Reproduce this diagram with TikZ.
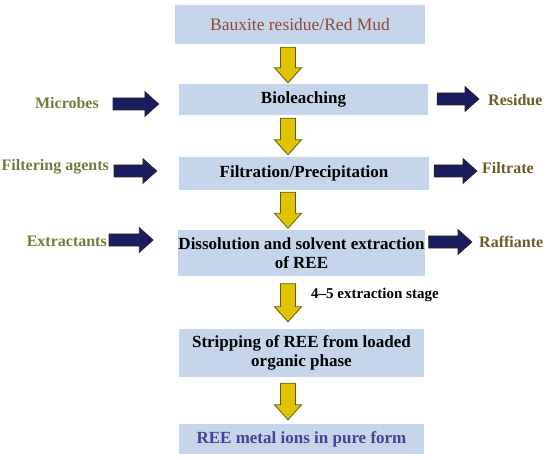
\documentclass[tikz,border=0pt]{standalone}
\usepackage{fontspec}
\setmainfont{Liberation Serif}
\usetikzlibrary{calc}
\definecolor{boxfill}{HTML}{C6D5EA}
\definecolor{lblgreen}{HTML}{6E7E3C}
\definecolor{lblbrown}{HTML}{6E5A28}
\definecolor{topred}{HTML}{8E4A3C}
\definecolor{botpurple}{HTML}{4A3F97}
\definecolor{yfill}{HTML}{E2C300}
\definecolor{yedge}{HTML}{5E5A1C}
\definecolor{navyfill}{HTML}{1B1C5E}
\newcommand\vArrow[2]{\draw[yarrow] ($(#1)+(-7.5,0)$) -- ($(#2)+(-7.5,-15)$) -- ($(#2)+(-13.5,-15)$) -- (#2) -- ($(#2)+(13.5,-15)$) -- ($(#2)+(7.5,-15)$) -- ($(#1)+(7.5,0)$) -- cycle;}
\newcommand\hArrow[2]{\draw[narrow] ($(#1)+(0,-6)$) -- ($(#2)+(-14,-6)$) -- ($(#2)+(-14,-12.5)$) -- (#2) -- ($(#2)+(-14,12.5)$) -- ($(#2)+(-14,6)$) -- ($(#1)+(0,6)$) -- cycle;}
\begin{document}
\begin{tikzpicture}[x=1pt,y=-1pt,
  box/.style={fill=boxfill, draw=none, minimum width=247pt, align=center, inner sep=0pt,
    font=\fontsize{17}{19.5}\selectfont\bfseries},
  lbl/.style={font=\fontsize{16}{18}\selectfont\bfseries, inner sep=0pt},
  lin/.style={lbl, text=lblgreen, anchor=east},
  lout/.style={lbl, text=lblbrown, anchor=west},
  yarrow/.style={fill=yfill, draw=yedge, line width=0.8pt, line join=miter},
  narrow/.style={fill=navyfill, draw=black!85, line width=0.6pt, line join=miter}]
\useasboundingbox (0,0) rectangle (550,460);

% boxes
\node[box, minimum height=39pt, minimum width=250pt, font=\fontsize{17.5}{20}\selectfont, text=topred] (b1) at (300,24.5) {Bauxite residue/Red Mud};
\node[box, minimum height=31pt, minimum width=249pt] (b2) at (303.5,99.5) {Bioleaching};
\node[box, minimum height=33pt, minimum width=250pt] (b3) at (304,173.5) {Filtration/Precipitation};
\node[box, minimum height=45pt, minimum width=245pt] (b4) at (301.5,253) {Dissolution and solvent extraction\\of REE};
\node[box, minimum height=48pt, minimum width=245pt] (b5) at (301.5,353) {Stripping of REE from loaded\\organic phase};
\node[box, minimum height=30pt, minimum width=245pt, text=botpurple] (b6) at (301.5,439) {REE metal ions in pure form};

% side labels
\node[lin] (mic) at (99,103) {Microbes};
\node[lin] (fil) at (109,167) {Filtering agents};
\node[lin] (ext) at (107,241) {Extractants};
\node[lout] (res) at (488,100) {Residue};
\node[lout] (filt) at (482,168) {Filtrate};
\node[lout] (raf) at (479,242) {Raffiante};
\node[lbl, anchor=west, font=\fontsize{15}{17}\selectfont\bfseries] (stage) at (311,295) {4--5 extraction stage};

% vertical (yellow) arrows
\coordinate (a1s) at ($(288,0 |- b1.south)+(0,3)$);
\coordinate (a1e) at ($(288,0 |- b2.north)+(0,-1)$);
\coordinate (a2s) at ($(288,0 |- b2.south)+(0,3)$);
\coordinate (a2e) at ($(288,0 |- b3.north)+(0,-2)$);
\coordinate (a3s) at ($(288,0 |- b3.south)+(0,2)$);
\coordinate (a3e) at ($(288,0 |- b4.north)+(0,-2)$);
\coordinate (a4s) at ($(288,0 |- b4.south)+(0,8)$);
\coordinate (a4e) at ($(288,0 |- b5.north)+(0,-7)$);
\coordinate (a5s) at ($(288,0 |- b5.south)+(0,6)$);
\coordinate (a5e) at ($(288,0 |- b6.north)+(0,-4)$);
\vArrow{a1s}{a1e}
\vArrow{a2s}{a2e}
\vArrow{a3s}{a3e}
\vArrow{a4s}{a4e}
\vArrow{a5s}{a5e}

% horizontal (navy) arrows
\coordinate (i1s) at ($(mic.east |- b2.west)+(14,4.5)$);
\coordinate (i1e) at ($(b2.west)+(-20,4.5)$);
\coordinate (o1s) at ($(b2.east)+(9,-0.5)$);
\coordinate (o1e) at ($(res.west |- b2.east)+(-9,-0.5)$);
\coordinate (i2s) at ($(fil.east |- b3.west)+(5,-2.5)$);
\coordinate (i2e) at ($(b3.west)+(-22,-2.5)$);
\coordinate (o2s) at ($(b3.east)+(5,-2.5)$);
\coordinate (o2e) at ($(filt.west |- b3.east)+(-5,-2.5)$);
\coordinate (i3s) at ($(ext.east |- b4.west)+(2,-13)$);
\coordinate (i3e) at ($(b4.west)+(-25,-13)$);
\coordinate (o3s) at ($(b4.east)+(4,-11)$);
\coordinate (o3e) at ($(raf.west |- b4.east)+(-7,-11)$);
\hArrow{i1s}{i1e}
\hArrow{o1s}{o1e}
\hArrow{i2s}{i2e}
\hArrow{o2s}{o2e}
\hArrow{i3s}{i3e}
\hArrow{o3s}{o3e}
\end{tikzpicture}
\end{document}
